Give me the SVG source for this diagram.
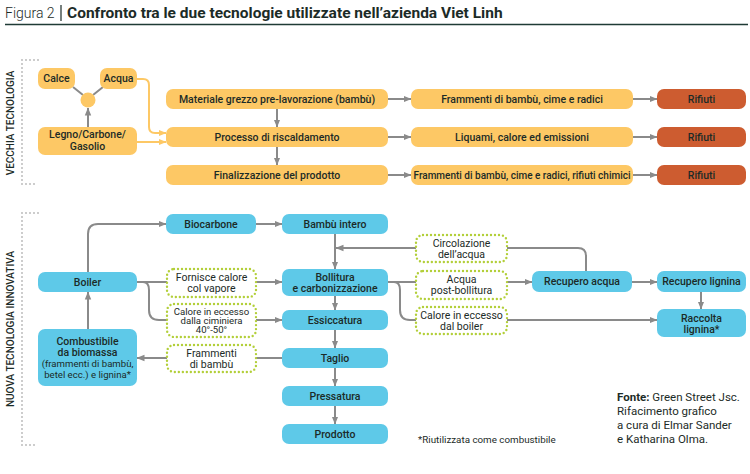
<svg xmlns="http://www.w3.org/2000/svg" width="750" height="474" viewBox="0 0 750 474">
<defs>
<style>
text{font-family:Roboto,"Liberation Sans",sans-serif;fill:#1c2b27;}
.t{font-size:10.5px;font-weight:500;text-anchor:middle;}
.g{font-size:10.5px;font-weight:400;text-anchor:middle;}
.or{fill:#fdc865;}
.rd{fill:#cd5c30;}
.bl{fill:#5ec9e8;}
.gr{fill:#fff;stroke:#b3cf3a;stroke-width:2.4;stroke-dasharray:0 4;stroke-linecap:round;}
.c{fill:none;stroke:#8a8a8a;stroke-width:2;}
.co{fill:none;stroke:#fdc865;stroke-width:2;}
.dot{fill:none;stroke:#8a8a8a;stroke-width:1.6;stroke-dasharray:0 4;stroke-linecap:round;}
.lab{font-size:10px;font-weight:500;text-anchor:middle;}
</style>
<marker id="ag" viewBox="0 0 8 8" refX="7.5" refY="4" markerWidth="8" markerHeight="8" markerUnits="userSpaceOnUse" orient="auto"><path d="M0,0.8 L8,4 L0,7.2 Z" fill="#8a8a8a"/></marker>
<marker id="ao" viewBox="0 0 8 8" refX="7.5" refY="4" markerWidth="8" markerHeight="8" markerUnits="userSpaceOnUse" orient="auto"><path d="M0,0.8 L8,4 L0,7.2 Z" fill="#fdc865"/></marker>
</defs>
<rect width="750" height="474" fill="#fff"/>

<g id="title">
<text x="5" y="18" style="font-size:14px;font-weight:300">Figura 2</text>
<line x1="61" y1="5" x2="61" y2="21" stroke="#1c2b27" stroke-width="1.2"/>
<text x="67" y="18" style="font-size:15.5px;font-weight:700">Confronto tra le due tecnologie utilizzate nell’azienda Viet Linh</text>
<line x1="5" y1="24.5" x2="748" y2="24.5" stroke="#1f3b35" stroke-width="1.6"/>
</g>

<g id="section-labels">
<path class="dot" d="M38,60 H22 V184 H38"/>
<text class="lab" transform="translate(14,123) rotate(-90)">VECCHIA TECNOLOGIA</text>
<path class="dot" d="M38,213 H22 V445 H38"/>
<text class="lab" transform="translate(14,329) rotate(-90)">NUOVA TECNOLOGIA INNOVATIVA</text>
</g>

<g id="connectors">
<line class="c" x1="73" y1="87" x2="83" y2="95"/>
<line class="c" x1="103" y1="87" x2="93" y2="95"/>
<path class="c" d="M88,127 V108" marker-end="url(#ag)"/>
<path class="co" d="M137,79 H143 Q149,79 149,85 V127 Q149,133 155,133 H166" marker-end="url(#ao)"/>
<path class="co" d="M137,142 H166" marker-end="url(#ao)"/>
<path class="c" d="M277,109 V127" marker-end="url(#ag)"/>
<path class="c" d="M277,147 V165" marker-end="url(#ag)"/>
<path class="c" d="M388,99 H411" marker-end="url(#ag)"/>
<path class="c" d="M388,137 H411" marker-end="url(#ag)"/>
<path class="c" d="M388,175 H411" marker-end="url(#ag)"/>
<path class="c" d="M633,99 H657" marker-end="url(#ag)"/>
<path class="c" d="M633,137 H657" marker-end="url(#ag)"/>
<path class="c" d="M633,175 H657" marker-end="url(#ag)"/>

<path class="c" d="M88,272 V234 Q88,224 98,224 H166" marker-end="url(#ag)"/>
<path class="c" d="M256,224 H282" marker-end="url(#ag)"/>
<path class="c" d="M137,282 H167"/>
<path class="c" d="M143,282 Q149,282 149,290 V310 Q149,320 159,320 H167"/>
<path class="c" d="M256,282 H282" marker-end="url(#ag)"/>
<path class="c" d="M256,320 H282" marker-end="url(#ag)"/>
<path class="c" d="M282,358 H256"/>
<path class="c" d="M167,358 H137" marker-end="url(#ag)"/>
<path class="c" d="M88,329 V292" marker-end="url(#ag)"/>
<path class="c" d="M335,234 V269" marker-end="url(#ag)"/>
<path class="c" d="M416,248 H336" marker-end="url(#ag)"/>
<path class="c" d="M507,248 H578 Q586,248 586,256 V271"/>
<path class="c" d="M388,282 H416"/>
<path class="c" d="M394,282 Q400,282 400,290 V310 Q400,320 410,320 H416"/>
<path class="c" d="M507,282 H532" marker-end="url(#ag)"/>
<path class="c" d="M507,320 H657" marker-end="url(#ag)"/>
<path class="c" d="M632,282 H657" marker-end="url(#ag)"/>
<path class="c" d="M701,292 V309" marker-end="url(#ag)"/>
<path class="c" d="M335,296 V310" marker-end="url(#ag)"/>
<path class="c" d="M335,330 V348" marker-end="url(#ag)"/>
<path class="c" d="M335,368 V386" marker-end="url(#ag)"/>
<path class="c" d="M335,406 V424" marker-end="url(#ag)"/>
</g>

<g id="calce"><rect class="or" x="38" y="68" width="37" height="21" rx="7"/><text class="t" x="56.5" y="82">Calce</text></g>
<g id="acqua"><rect class="or" x="100" y="68" width="37" height="21" rx="7"/><text class="t" x="118.5" y="82">Acqua</text></g>
<g id="mix"><circle class="or" cx="88" cy="100" r="7.5"/></g>
<g id="legno"><rect class="or" x="38" y="127" width="99" height="28" rx="7"/><text class="t" x="87.5" y="138">Legno/Carbone/</text><text class="t" x="87.5" y="149.5">Gasolio</text></g>
<g id="materiale"><rect class="or" x="166" y="89" width="222" height="20" rx="7"/><text class="t" x="277" y="102.5">Materiale grezzo pre-lavorazione (bambù)</text></g>
<g id="processo"><rect class="or" x="166" y="127" width="222" height="20" rx="7"/><text class="t" x="277" y="140.5">Processo di riscaldamento</text></g>
<g id="finalizzazione"><rect class="or" x="166" y="165" width="222" height="20" rx="7"/><text class="t" x="277" y="178.5">Finalizzazione del prodotto</text></g>
<g id="frammenti1"><rect class="or" x="411" y="89" width="222" height="20" rx="7"/><text class="t" x="522" y="102.5">Frammenti di bambù, cime e radici</text></g>
<g id="liquami"><rect class="or" x="411" y="127" width="222" height="20" rx="7"/><text class="t" x="522" y="140.5">Liquami, calore ed emissioni</text></g>
<g id="frammenti2"><rect class="or" x="411" y="165" width="222" height="20" rx="7"/><text class="t" x="522" y="178.5" style="font-size:10px">Frammenti di bambù, cime e radici, rifiuti chimici</text></g>
<g id="rifiuti1"><rect class="rd" x="657" y="89" width="89" height="20" rx="7"/><text class="t" x="701.5" y="102.5">Rifiuti</text></g>
<g id="rifiuti2"><rect class="rd" x="657" y="127" width="89" height="20" rx="7"/><text class="t" x="701.5" y="140.5">Rifiuti</text></g>
<g id="rifiuti3"><rect class="rd" x="657" y="165" width="89" height="20" rx="7"/><text class="t" x="701.5" y="178.5">Rifiuti</text></g>

<g id="biocarbone"><rect class="bl" x="166" y="214" width="90" height="20" rx="7"/><text class="t" x="211" y="227.5">Biocarbone</text></g>
<g id="bambu-intero"><rect class="bl" x="282" y="214" width="106" height="20" rx="7"/><text class="t" x="335" y="227.5">Bambù intero</text></g>
<g id="boiler"><rect class="bl" x="38" y="272" width="99" height="20" rx="7"/><text class="t" x="87.5" y="285.5">Boiler</text></g>
<g id="combustibile"><rect class="bl" x="38" y="329" width="99" height="57" rx="7"/>
<text class="t" x="87.5" y="345">Combustibile</text><text class="t" x="87.5" y="356">da biomassa</text><text class="g" x="87.5" y="367" style="font-size:9.6px">(frammenti di bambù,</text><text class="g" x="87.5" y="378" style="font-size:9.6px">betel ecc.) e lignina*</text></g>
<g id="bollitura"><rect class="bl" x="282" y="269" width="106" height="27" rx="7"/><text class="t" x="335" y="281">Bollitura</text><text class="t" x="335" y="292">e carbonizzazione</text></g>
<g id="essiccatura"><rect class="bl" x="282" y="310" width="106" height="20" rx="7"/><text class="t" x="335" y="323.5">Essiccatura</text></g>
<g id="taglio"><rect class="bl" x="282" y="348" width="106" height="20" rx="7"/><text class="t" x="335" y="361.5">Taglio</text></g>
<g id="pressatura"><rect class="bl" x="282" y="386" width="106" height="20" rx="7"/><text class="t" x="335" y="399.5">Pressatura</text></g>
<g id="prodotto"><rect class="bl" x="282" y="424" width="106" height="20" rx="7"/><text class="t" x="335" y="437.5">Prodotto</text></g>
<g id="recupero-acqua"><rect class="bl" x="532" y="271" width="100" height="21" rx="7"/><text class="t" x="582" y="285">Recupero acqua</text></g>
<g id="recupero-lignina"><rect class="bl" x="657" y="271" width="89" height="21" rx="7"/><text class="t" x="701.5" y="285">Recupero lignina</text></g>
<g id="raccolta-lignina"><rect class="bl" x="657" y="309" width="89" height="28" rx="7"/><text class="t" x="701.5" y="321.5">Raccolta</text><text class="t" x="701.5" y="332.5">lignina*</text></g>

<g id="fornisce"><rect class="gr" x="167" y="269" width="89" height="28" rx="7"/><text class="g" x="211.5" y="280.5">Fornisce calore</text><text class="g" x="211.5" y="291.5">col vapore</text></g>
<g id="calore-ciminiera"><rect class="gr" x="167" y="304" width="89" height="33" rx="7"/><text class="g" x="211.5" y="314.5" style="font-size:9.6px">Calore in eccesso</text><text class="g" x="211.5" y="323.5" style="font-size:9.6px">dalla ciminiera</text><text class="g" x="211.5" y="332.5" style="font-size:9.6px">40°-50°</text></g>
<g id="frammenti-bambu"><rect class="gr" x="167" y="345" width="89" height="27" rx="7"/><text class="g" x="211.5" y="356.5">Frammenti</text><text class="g" x="211.5" y="367.5">di bambù</text></g>
<g id="circolazione"><rect class="gr" x="416" y="235" width="91" height="27" rx="7"/><text class="g" x="461.5" y="246.5">Circolazione</text><text class="g" x="461.5" y="257.5">dell’acqua</text></g>
<g id="acqua-post"><rect class="gr" x="416" y="271" width="91" height="28" rx="7"/><text class="g" x="461.5" y="282.5">Acqua</text><text class="g" x="461.5" y="293.5">post-bollitura</text></g>
<g id="calore-boiler"><rect class="gr" x="416" y="307" width="91" height="27" rx="7"/><text class="g" x="461.5" y="318.5">Calore in eccesso</text><text class="g" x="461.5" y="329.5">dal boiler</text></g>

<g id="notes">
<text x="418" y="443" style="font-size:9.8px">*Riutilizzata come combustibile</text>
<text x="617" y="401" style="font-size:11.5px"><tspan font-weight="700">Fonte:</tspan> Green Street Jsc.</text>
<text x="617" y="415" style="font-size:11.5px">Rifacimento grafico</text>
<text x="617" y="429" style="font-size:11.5px">a cura di Elmar Sander</text>
<text x="617" y="443" style="font-size:11.5px">e Katharina Olma.</text>
</g>
</svg>
